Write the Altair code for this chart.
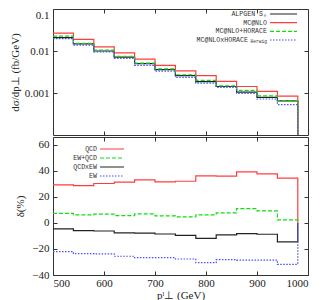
import altair as alt
import pandas as pd

# bin edges (GeV); each value holds from its edge to the next one
edges = [500, 540, 580, 620, 660, 700, 740, 780, 820, 860, 900, 940, 980]

# upper panel: d sigma / d pT (fb/GeV)
top_names = ["ALPGEN S\u2080", "MC@NLO", "MC@NLO+HORACE", "MC@NLOxHORACE"]
top_subs = ["", "", "", "Herwig"]
alpgen = [0.0208, 0.0148, 0.0100, 0.00713, 0.00499, 0.00361, 0.00258, 0.00187, 0.00143, 0.00105, 0.00079, 0.00065]
mcnlo = [0.0267, 0.0190, 0.0126, 0.00898, 0.0064, 0.00456, 0.00336, 0.00258, 0.0019, 0.00143, 0.00109, 0.00084]
mcnlo_horace = [0.0227, 0.0153, 0.01054, 0.0075, 0.00516, 0.00375, 0.00272, 0.0020, 0.00148, 0.00115, 0.00085, 0.00065]
mcnlo_x_horace = [0.0197, 0.0138, 0.0095, 0.00662, 0.00456, 0.00331, 0.00236, 0.00171, 0.00136, 0.00098, 0.00072, 0.00053]

# lower panel: relative corrections delta (%)
bot_names = ["QCD", "EW+QCD", "QCDxEW", "EW"]
bot_subs = ["", "", "", ""]
qcd = [29.2, 28.7, 30.3, 31.3, 33.1, 31.5, 32.0, 36.2, 35.9, 39.2, 37.7, 34.4]
ew_plus_qcd = [7.4, 6.2, 6.7, 5.6, 6.9, 5.4, 4.6, 6.2, 7.7, 11.0, 9.2, 2.3]
qcd_x_ew = [-4.6, -5.9, -6.2, -7.7, -7.9, -8.5, -9.5, -11.8, -9.2, -8.2, -8.7, -14.6]
ew = [-22.0, -23.6, -23.8, -25.6, -26.7, -26.7, -27.7, -30.5, -28.2, -28.5, -28.5, -31.8]

top_colors = ["#222222", "#ff3c3c", "#11dd11", "#4a4aff"]
bot_colors = ["#ff3c3c", "#11dd11", "#222222", "#4a4aff"]
top_dash = [[1, 0], [1, 0], [4, 2], [1.5, 1.5]]
bot_dash = [[1, 0], [4, 2], [1, 0], [1.5, 1.5]]

SERIF = "Liberation Serif"
MONO = "Liberation Mono"
W = 255
TICK = 4
SUB_SHIFT = 19


def steps(names, series, end_value):
    rows = []
    for name, vals in zip(names, series):
        for i, x in enumerate(edges):
            v = vals[i] if i < len(vals) else end_value
            rows.append({"pt": x, "val": v, "series": name, "order": i})
    return pd.DataFrame(rows)


def legend_df(names, subs):
    return pd.DataFrame({
        "series": names,
        "sub": subs,
        "row": list(range(len(names))),
    })


def panel(df, names, subs, colors, dashes, y_scale, y_axis, x_axis, height,
          leg_text_x, leg_x0, leg_x1, leg_y0, leg_y1):
    color = alt.Color("series:N", scale=alt.Scale(domain=names, range=colors), legend=None)
    dash = alt.StrokeDash("series:N", scale=alt.Scale(domain=names, range=dashes), legend=None)
    xscale = alt.Scale(domain=[500, 1000], nice=False)

    lines = alt.Chart(df).mark_line(interpolate="step-after", clip=True, strokeWidth=1.2).encode(
        x=alt.X("pt:Q", scale=xscale, axis=x_axis),
        y=alt.Y("val:Q", scale=y_scale, axis=y_axis),
        color=color, strokeDash=dash, order="order:Q",
    )
    mirror = alt.Chart(df).mark_line(opacity=0, clip=True).encode(
        x=alt.X("pt:Q", scale=xscale,
                axis=alt.Axis(orient="top", title=None, labels=False, domain=False, grid=False,
                              values=[600, 700, 800, 900], tickSize=TICK, offset=-TICK)),
        y=alt.Y("val:Q", scale=y_scale,
                axis=alt.Axis(orient="right", title=None, labels=False, domain=False, grid=False,
                              values=y_axis["values"], tickSize=TICK, offset=-TICK)),
        order="order:Q",
    )
    leg = legend_df(names, subs)
    row_scale = alt.Scale(domain=[0, 3], range=[leg_y0, leg_y1])
    row_y = alt.Y("row:Q", scale=row_scale, axis=None)
    rules = alt.Chart(leg).mark_rule(strokeWidth=1.2).encode(
        x=alt.value(leg_x0), x2=alt.value(leg_x1), y=row_y,
        color=color, strokeDash=dash,
    )
    text_style = dict(align="right", baseline="middle", font=MONO, fontSize=6.6, fill="#333333")
    texts = alt.Chart(leg).transform_filter("datum.sub == ''").mark_text(**text_style).encode(
        x=alt.value(leg_text_x), y=row_y, text="series:N",
    )
    layers = [lines, mirror, rules, texts]
    if any(subs):
        texts_sub_main = alt.Chart(leg).transform_filter("datum.sub != ''").mark_text(
            dx=-SUB_SHIFT, **text_style).encode(
            x=alt.value(leg_text_x), y=row_y, text="series:N",
        )
        subtexts = alt.Chart(leg).transform_filter("datum.sub != ''").mark_text(
            align="right", baseline="middle", font=MONO, fontSize=4.6, dy=2,
            fill="#333333").encode(
            x=alt.value(leg_text_x), y=row_y, text="sub:N",
        )
        layers += [texts_sub_main, subtexts]
    return alt.layer(*layers).resolve_scale(
        y="independent", x="independent"
    ).properties(width=W, height=height)


top = panel(
    steps(top_names, [alpgen, mcnlo, mcnlo_horace, mcnlo_x_horace], 1e-9),
    top_names, top_subs, top_colors, top_dash,
    alt.Scale(type="log", domain=[1e-4, 0.1], nice=False),
    alt.Axis(orient="left", title="d\u03c3/dp\u22a5 (fb/GeV)", values=[0.001, 0.01, 0.1], format="~g",
             grid=False, domain=False, tickSize=TICK, offset=-TICK, labelPadding=4,
             labelFlush=True, titlePadding=4),
    alt.Axis(orient="bottom", title=None, labels=False, values=[600, 700, 800, 900],
             tickSize=TICK, offset=-TICK, domain=False, grid=False),
    126, 214, 217, 244, 5, 31,
)

bot = panel(
    steps(bot_names, [qcd, ew_plus_qcd, qcd_x_ew, ew], 0.0),
    bot_names, bot_subs, bot_colors, bot_dash,
    alt.Scale(domain=[-40, 66], nice=False, zero=False),
    alt.Axis(orient="left", title="\u03b4(%)", values=[-40, -20, 0, 20, 40, 60],
             grid=False, domain=False, tickSize=TICK, offset=-TICK, labelPadding=4, titlePadding=6),
    alt.Axis(orient="bottom", title="p\u02e1\u22a5 (GeV)", values=[500, 600, 700, 800, 900, 1000],
             format="d", grid=False, domain=False, tickSize=TICK, offset=-TICK,
             labelPadding=2, titlePadding=1),
    138, 44, 47, 71, 12, 39,
)

chart = alt.vconcat(top, bot, spacing=0).resolve_scale(
    color="independent", strokeDash="independent"
).configure(
    padding={"left": 0, "top": 0, "right": 0, "bottom": 0}
).configure_view(
    stroke="#333333", strokeWidth=1
).configure_axis(
    labelFont=SERIF, labelFontSize=11, labelColor="#222",
    titleFont=SERIF, titleFontSize=11, titleFontWeight="normal", titleColor="#222",
    tickColor="#333"
)

chart.save("out.html", embed_options={"renderer": "svg", "actions": False})
